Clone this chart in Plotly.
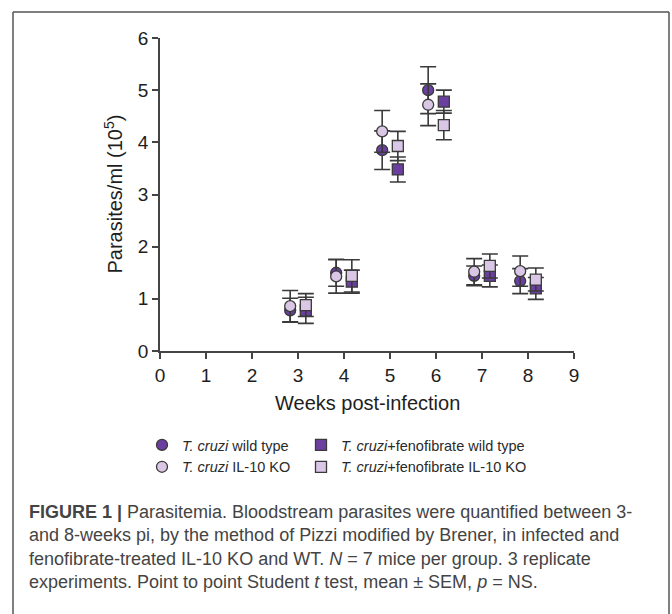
import plotly.graph_objects as go

# ---------------- data ----------------
weeks = [3, 4, 5, 6, 7, 8]

wt_mean = [0.78, 1.50, 3.85, 5.00, 1.44, 1.34]
wt_sem = [0.23, 0.26, 0.37, 0.45, 0.19, 0.24]

ko_mean = [0.86, 1.43, 4.21, 4.72, 1.52, 1.53]
ko_sem = [0.30, 0.32, 0.40, 0.40, 0.25, 0.29]

feno_wt_mean = [0.78, 1.33, 3.48, 4.78, 1.44, 1.20]
feno_wt_sem = [0.25, 0.22, 0.24, 0.22, 0.21, 0.21]

feno_ko_mean = [0.88, 1.44, 3.93, 4.33, 1.63, 1.37]
feno_ko_sem = [0.22, 0.31, 0.28, 0.28, 0.23, 0.22]

series_names = [
    "<i>T. cruzi</i> wild type",
    "<i>T. cruzi</i> IL-10 KO",
    "<i>T. cruzi</i>+fenofibrate wild type",
    "<i>T. cruzi</i>+fenofibrate IL-10 KO",
]

x_tick_vals = list(range(0, 10))
y_tick_vals = list(range(0, 7))

x_title = "Weeks post-infection"
y_title = "Parasites/ml (10<sup>5</sup>)"

caption = (
    "<b>FIGURE 1 |</b> Parasitemia. Bloodstream parasites were quantified between 3-<br>"
    "and 8-weeks pi, by the method of Pizzi modified by Brener, in infected and<br>"
    "fenofibrate-treated IL-10 KO and WT. <i>N</i> = 7 mice per group. 3 replicate<br>"
    "experiments. Point to point Student <i>t</i> test, mean \u00b1 SEM, <i>p</i> = NS."
)

# ---------------- style ----------------
W, H = 672, 614
ML, MR, MT, MB = 160, 98, 38, 263
PW, PH = W - ML - MR, H - MT - MB
DARK = "#6B3FA0"
LIGHT = "#D9C7E5"
LINE = "#3a3a3a"
FONT = "Liberation Sans, Arial, Helvetica, sans-serif"
DODGE = 0.17


def px_x(px):
    return (px - ML) / PW


def px_y(py):
    return 1 - (py - MT) / PH


fig = go.Figure()


def add_series(xs, ys, errs, name, color, symbol, legend):
    fig.add_trace(go.Scatter(
        x=xs, y=ys, name=name, mode="markers", legend=legend,
        marker=dict(symbol=symbol, size=11, color=color,
                    line=dict(color=LINE, width=1.3)),
        error_y=dict(type="data", array=errs, visible=True,
                     color=LINE, thickness=1.6, width=8),
    ))


left_x = [w - DODGE for w in weeks]
right_x = [w + DODGE for w in weeks]

add_series(left_x, wt_mean, wt_sem, series_names[0], DARK, "circle", "legend")
add_series(left_x, ko_mean, ko_sem, series_names[1], LIGHT, "circle", "legend")
add_series(right_x, feno_wt_mean, feno_wt_sem, series_names[2], DARK, "square", "legend2")
add_series(right_x, feno_ko_mean, feno_ko_sem, series_names[3], LIGHT, "square", "legend2")

axis_common = dict(
    showline=True, linecolor="#444", linewidth=1.5,
    ticks="outside", ticklen=6, tickwidth=1.5, tickcolor="#444",
    showgrid=False, zeroline=False,
    tickfont=dict(size=19, color="#1e1e1e", family=FONT),
)

fig.update_xaxes(range=[0, 9], tickvals=x_tick_vals, **axis_common)
fig.update_yaxes(range=[0, 6], tickvals=y_tick_vals, **axis_common)

title_font = dict(size=20, color="#1e1e1e", family=FONT)
legend_font = dict(size=14.5, color="#2a2a2a", family=FONT)
fig.update_layout(
    width=W, height=H,
    margin=dict(l=ML, r=MR, t=MT, b=MB, autoexpand=False),
    paper_bgcolor="white", plot_bgcolor="white",
    font=dict(family=FONT),
    legend=dict(xref="container", yref="container", x=(162 - 20) / W, y=1 - 429 / H,
                xanchor="left", yanchor="top", font=legend_font,
                bgcolor="rgba(0,0,0,0)", tracegroupgap=0),
    legend2=dict(xref="container", yref="container", x=(321 - 20) / W, y=1 - 429 / H,
                 xanchor="left", yanchor="top", font=legend_font,
                 bgcolor="rgba(0,0,0,0)", tracegroupgap=0),
    shapes=[
        dict(type="line", xref="paper", yref="paper", x0=px_x(13), x1=px_x(13),
             y0=px_y(12), y1=px_y(640), line=dict(color="#555", width=1.5)),
        dict(type="line", xref="paper", yref="paper", x0=px_x(13), x1=px_x(669),
             y0=px_y(12), y1=px_y(12), line=dict(color="#555", width=1.5)),
        dict(type="line", xref="paper", yref="paper", x0=px_x(669), x1=px_x(669),
             y0=px_y(12), y1=px_y(640), line=dict(color="#555", width=1.5)),
    ],
    annotations=[
        dict(text=x_title, xref="paper", yref="paper", x=0.5, y=px_y(403),
             xanchor="center", yanchor="middle", showarrow=False, font=title_font),
        dict(text=y_title, xref="paper", yref="paper", x=px_x(113), y=0.5,
             xanchor="center", yanchor="middle", textangle=-90, showarrow=False,
             font=title_font),
        dict(text=caption, xref="paper", yref="paper", x=px_x(27), y=px_y(500),
             xanchor="left", yanchor="top", align="left", showarrow=False,
             font=dict(size=18, color="#444", family=FONT)),
    ],
)

fig.write_html("out.html")
